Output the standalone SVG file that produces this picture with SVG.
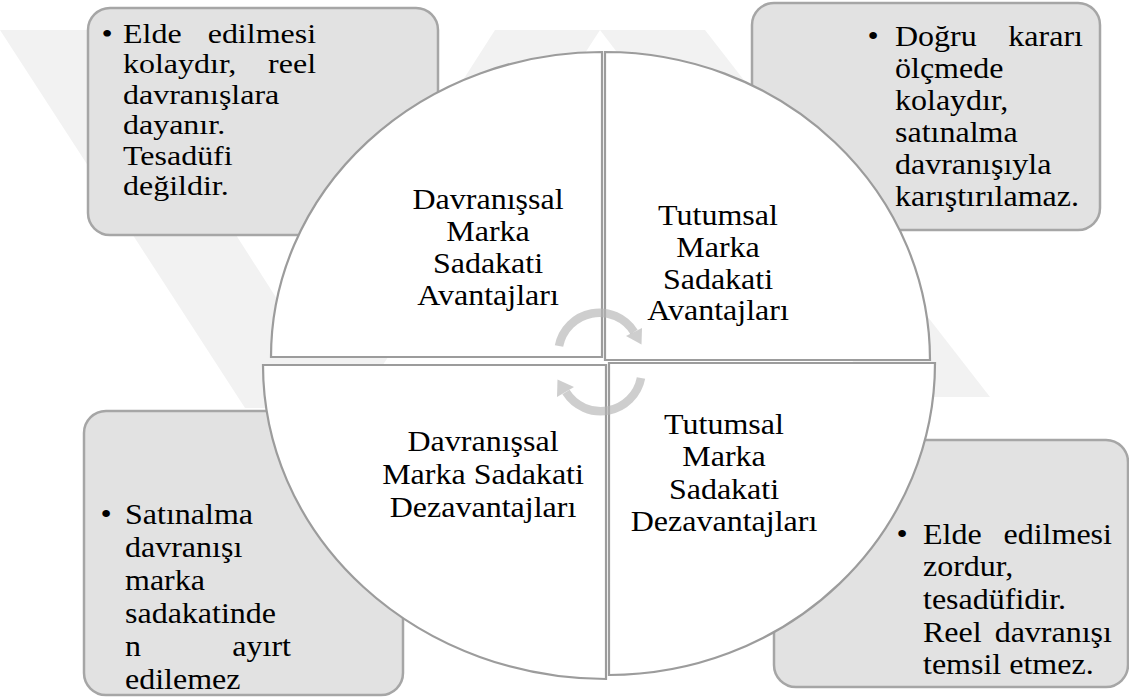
<svg xmlns="http://www.w3.org/2000/svg" width="1129" height="698" viewBox="0 0 1129 698">
  <style>
    .bg { fill: #ffffff; }
    .mark { fill: #f2f2f2; }
    .box { fill: #e2e2e2; stroke: #a6a6a6; stroke-width: 2.5; }
    .quad { fill: #ffffff; stroke: #9c9c9c; stroke-width: 2.2; }
    .txt { font-family: "Liberation Serif", "Times New Roman", serif; font-size: 30px; fill: #000000; }
    .sm { font-size: 28px; }
    .mid { text-anchor: middle; }
    .end { text-anchor: end; }
    .cyc { fill: none; stroke: #b4b4b4; stroke-width: 8.5; opacity: 0.65; }
    .cychead { fill: #b4b4b4; opacity: 0.65; }
  </style>

  <rect class="bg" x="0" y="0" width="1129" height="698"/>

  <!-- faint background emblem -->
  <g id="emblem">
    <polygon class="mark" points="0,30 105,30 300,335 495,30 600,30 355,408 245,408"/>
    <polygon class="mark" points="600,30 705,30 990,397 880,397"/>
  </g>

  <!-- corner note boxes (type set slightly wide via horizontal scale) -->
  <g id="note-tl">
    <rect class="box" x="88" y="8" width="350" height="227" rx="22"/>
    <g transform="translate(123 0) scale(1.143 1)">
      <text class="txt sm mid" x="-14" y="43">•</text>
      <text class="txt sm" x="0" y="43">Elde</text>
      <text class="txt sm end" x="168.9" y="43">edilmesi</text>
      <text class="txt sm" x="0" y="73.5">kolaydır,</text>
      <text class="txt sm end" x="168.9" y="73.5">reel</text>
      <text class="txt sm" x="0" y="104">davranışlara</text>
      <text class="txt sm" x="0" y="134.5">dayanır.</text>
      <text class="txt sm" x="0" y="165">Tesadüfi</text>
      <text class="txt sm" x="0" y="195.5">değildir.</text>
    </g>
  </g>

  <g id="note-tr">
    <rect class="box" x="752" y="3" width="348" height="227" rx="22"/>
    <g transform="translate(895 0) scale(1.067 1)">
      <text class="txt mid" x="-20.6" y="46">•</text>
      <text class="txt" x="0" y="46">Doğru</text>
      <text class="txt end" x="176.2" y="46">kararı</text>
      <text class="txt" x="0" y="78">ölçmede</text>
      <text class="txt" x="0" y="110">kolaydır,</text>
      <text class="txt" x="0" y="142">satınalma</text>
      <text class="txt" x="0" y="174">davranışıyla</text>
      <text class="txt" x="0" y="206">karıştırılamaz.</text>
    </g>
  </g>

  <g id="note-bl">
    <rect class="box" x="84" y="411" width="319" height="284" rx="22"/>
    <g transform="translate(125 0) scale(1.067 1)">
      <text class="txt mid" x="-17.8" y="524">•</text>
      <text class="txt" x="0" y="524">Satınalma</text>
      <text class="txt" x="0" y="557">davranışı</text>
      <text class="txt" x="0" y="590">marka</text>
      <text class="txt" x="0" y="623">sadakatinde</text>
      <text class="txt" x="0" y="656">n</text>
      <text class="txt end" x="155.6" y="656">ayırt</text>
      <text class="txt" x="0" y="689">edilemez</text>
    </g>
  </g>

  <g id="note-br">
    <rect class="box" x="774" y="440" width="354" height="247" rx="22"/>
    <g transform="translate(923 0) scale(1.067 1)">
      <text class="txt mid" x="-19.7" y="544">•</text>
      <text class="txt" x="0" y="544">Elde</text>
      <text class="txt end" x="177.1" y="544">edilmesi</text>
      <text class="txt" x="0" y="576">zordur,</text>
      <text class="txt" x="0" y="609">tesadüfidir.</text>
      <text class="txt" x="0" y="642">Reel</text>
      <text class="txt end" x="177.1" y="642">davranışı</text>
      <text class="txt" x="0" y="674">temsil etmez.</text>
    </g>
  </g>

  <!-- four quarter segments of the central disc -->
  <g id="quad-tl">
    <path class="quad" d="M602,357 L602,52 A331,305 0 0 0 271,357 Z"/>
    <g transform="translate(488 0) scale(1.067 1)">
      <text class="txt mid" x="0" y="209">Davranışsal</text>
      <text class="txt mid" x="0" y="241">Marka</text>
      <text class="txt mid" x="0" y="273">Sadakati</text>
      <text class="txt mid" x="0" y="305">Avantajları</text>
    </g>
  </g>

  <g id="quad-tr">
    <path class="quad" d="M605,360 L605,52 A325,308 0 0 1 930,360 Z"/>
    <g transform="translate(718 0) scale(1.067 1)">
      <text class="txt mid" x="0" y="225">Tutumsal</text>
      <text class="txt mid" x="0" y="257">Marka</text>
      <text class="txt mid" x="0" y="289">Sadakati</text>
      <text class="txt mid" x="0" y="320">Avantajları</text>
    </g>
  </g>

  <g id="quad-bl">
    <path class="quad" d="M606,365 L263,365 A343,314 0 0 0 606,679 Z"/>
    <g transform="translate(483 0) scale(1.067 1)">
      <text class="txt mid" x="0" y="451">Davranışsal</text>
      <text class="txt mid" x="0" y="484">Marka Sadakati</text>
      <text class="txt mid" x="0" y="517">Dezavantajları</text>
    </g>
  </g>

  <g id="quad-br">
    <path class="quad" d="M609,363 L935,363 A326,312 0 0 1 609,675 Z"/>
    <g transform="translate(724 0) scale(1.067 1)">
      <text class="txt mid" x="0" y="434">Tutumsal</text>
      <text class="txt mid" x="0" y="466">Marka</text>
      <text class="txt mid" x="0" y="499">Sadakati</text>
      <text class="txt mid" x="0" y="531">Dezavantajları</text>
    </g>
  </g>

  <!-- circular arrows at the hub -->
  <g id="connectors">
    <path class="cyc" d="M559,346 A41,41 0 0 1 634,332"/>
    <polygon class="cychead" points="641.5,344.5 642,328 626,336"/>
    <path class="cyc" d="M641,378 A41,41 0 0 1 566,392"/>
    <polygon class="cychead" points="557.5,379.5 557,397 574,387"/>
  </g>
</svg>
